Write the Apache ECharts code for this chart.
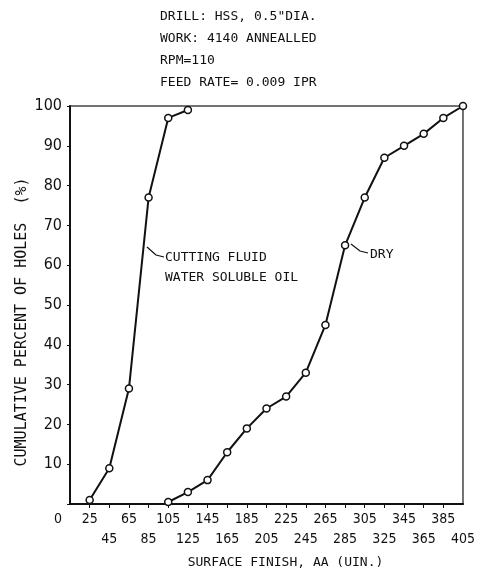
<!DOCTYPE html>
<html>
<head>
<meta charset="utf-8">
<script src="https://cdn.jsdelivr.net/npm/echarts@6/dist/echarts.min.js"></script>
<style>
  html, body { margin: 0; padding: 0; background: #fff; }
  #main { width: 478px; height: 574px; }
</style>
</head>
<body>
<div id="main"></div>
<script>
// conditions printed above the plot
const titleLines = ['DRILL: HSS, 0.5"DIA.', 'WORK: 4140 ANNEALLED', 'RPM=110', 'FEED RATE= 0.009 IPR'];

// surface finish (AA, uin.) vs cumulative percent of holes
const fluidX = [25, 45, 65, 85, 105, 125];
const fluidY = [1, 9, 29, 77, 97, 99];
const dryX = [105, 125, 145, 165, 185, 205, 225, 245, 265, 285, 305, 325, 345, 365, 385, 405];
const dryY = [0.5, 3, 6, 13, 19, 24, 27, 33, 45, 65, 77, 87, 90, 93, 97, 100];

const ink = '#111';
const mono = "'DejaVu Sans Mono', monospace";
const narrow = "'Liberation Sans Narrow', 'DejaVu Sans Condensed', sans-serif";

const chart = echarts.init(document.getElementById('main'));

function pairs(xs, ys) {
  return xs.map((x, i) => [x, ys[i]]);
}

const lineSeries = (name, xs, ys) => ({
  name: name,
  type: 'line',
  data: pairs(xs, ys),
  symbol: 'circle',
  symbolSize: 7,
  itemStyle: { color: '#fff', borderColor: ink, borderWidth: 1.5 },
  lineStyle: { color: ink, width: 2 },
  z: 3
});

// tick labels alternate between two rows: row 0 = 25, 65, 105...; row 1 = 45, 85, 125...
const rowLabel = row => function (v) {
  const i = Math.round((v - 5) / 20);
  if (i === 0) return '';
  return (i % 2 === 1 ? 0 : 1) === row ? String(v) : '';
};

const xBase = {
  type: 'value',
  min: 5,
  max: 405,
  interval: 20,
  position: 'bottom',
  splitLine: { show: false }
};

const option = {
  animation: false,
  backgroundColor: '#fff',
  title: {
    text: titleLines.join('\n'),
    left: 155,
    top: 1,
    textStyle: { fontFamily: mono, fontSize: 13, fontWeight: 'normal', color: ink, lineHeight: 22 }
  },
  grid: { left: 70, right: 9, top: 106, bottom: 70, show: true, borderColor: '#444', borderWidth: 1.5 },
  xAxis: [
    Object.assign({}, xBase, {
      name: 'SURFACE FINISH, AA (UIN.)',
      nameLocation: 'middle',
      nameGap: 52,
      nameMoveOverlap: false,
      nameTextStyle: { fontFamily: mono, fontSize: 13, color: ink, padding: [0, 0, 0, 38] },
      axisLine: { lineStyle: { color: ink, width: 2 } },
      axisTick: { length: 4, lineStyle: { color: ink } },
      axisLabel: {
        margin: 8, fontFamily: narrow, fontSize: 14, color: ink,
        showMinLabel: false, showMaxLabel: false, hideOverlap: false,
        formatter: rowLabel(0)
      }
    }),
    Object.assign({}, xBase, {
      offset: 20,
      axisLine: { show: false },
      axisTick: { show: false },
      axisLabel: {
        margin: 8, fontFamily: narrow, fontSize: 14, color: ink,
        showMinLabel: false, showMaxLabel: true, hideOverlap: false,
        formatter: rowLabel(1)
      }
    })
  ],
  yAxis: {
    type: 'value',
    min: 0,
    max: 100,
    interval: 10,
    name: 'CUMULATIVE PERCENT OF HOLES  (%)',
    nameLocation: 'middle',
    nameGap: 40,
    nameMoveOverlap: false,
    nameTextStyle: { fontFamily: mono, fontSize: 15, color: ink, padding: [0, 34, 0, 0] },
    axisLine: { show: true, lineStyle: { color: ink, width: 2 } },
    axisTick: { show: true, length: 3, lineStyle: { color: ink } },
    splitLine: { show: false },
    axisLabel: {
      margin: 8,
      fontFamily: narrow,
      fontSize: 16,
      color: ink,
      formatter: v => (v === 0 ? '{zero|0}' : String(v)),
      rich: { zero: { fontFamily: narrow, fontSize: 14, color: ink, padding: [30, 0, 0, 0] } }
    }
  },
  series: [
    lineSeries('CUTTING FLUID', fluidX, fluidY),
    lineSeries('DRY', dryX, dryY)
  ],
  graphic: [
    { type: 'polyline', shape: { points: [[147, 247], [156, 255], [164, 257]] }, style: { stroke: ink, lineWidth: 1.2, fill: null } },
    { type: 'text', left: 165, top: 248, style: { text: 'CUTTING FLUID\nWATER SOLUBLE OIL', font: '13px ' + mono, fill: ink, lineHeight: 20 } },
    { type: 'polyline', shape: { points: [[351, 244], [360, 251], [368, 253]] }, style: { stroke: ink, lineWidth: 1.2, fill: null } },
    { type: 'text', left: 370, top: 248, style: { text: 'DRY', font: '13px ' + mono, fill: ink } }
  ]
};

chart.setOption(option);
</script>
</body>
</html>
